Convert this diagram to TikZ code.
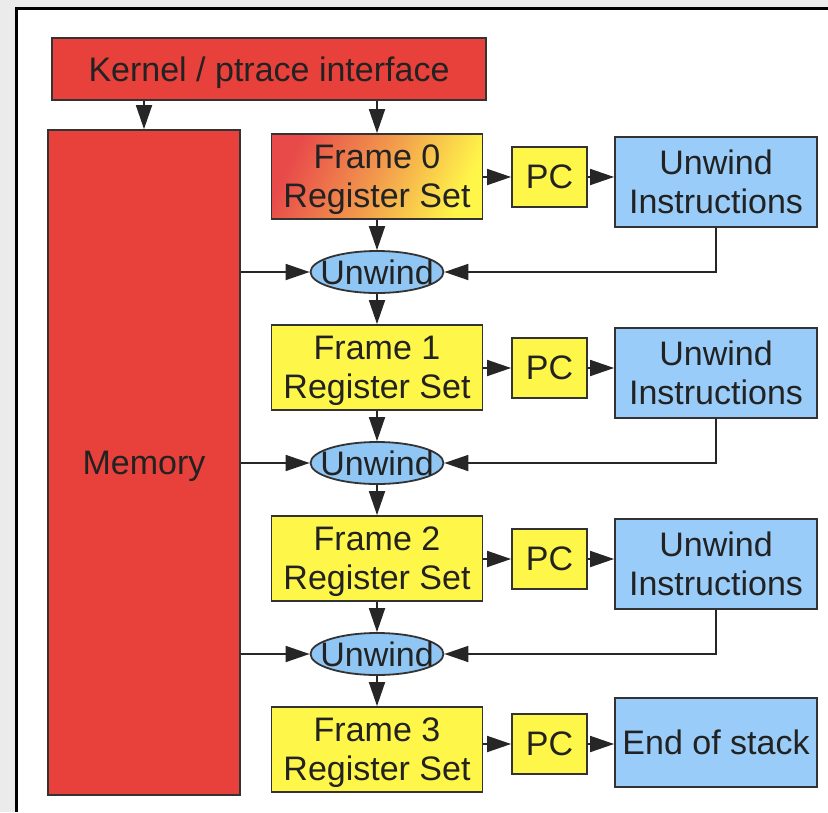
\documentclass[tikz,border=0pt]{standalone}
\usepackage{fontspec}
\setmainfont{Liberation Sans}
\usetikzlibrary{shapes.geometric,arrows.meta}
\definecolor{boxred}{HTML}{E8403A}
\definecolor{gradred}{HTML}{E84A4A}
\definecolor{gradmid}{HTML}{F29A4C}
\definecolor{boxyel}{HTML}{FFF64A}
\definecolor{boxblue}{HTML}{99CCF8}
\definecolor{ellblue}{HTML}{8FC6F3}
\definecolor{edge}{HTML}{333333}
\definecolor{bg}{HTML}{EBEBEB}
\definecolor{txt}{HTML}{222222}
\begin{document}
\begin{tikzpicture}[x=1pt,y=-1pt,
  base/.style={draw=edge,line width=1.8pt,text=txt,font=\fontsize{34}{39}\selectfont,align=center,inner sep=0pt,rectangle,text depth=0pt},
  redbox/.style={base,fill=boxred},
  yelbox/.style={base,fill=boxyel,minimum width=211pt,minimum height=85pt},
  pcbox/.style={base,fill=boxyel,minimum width=75pt,minimum height=60pt},
  bluebox/.style={base,fill=boxblue,minimum width=202pt},
  ell/.style={draw=edge,line width=1.8pt,ellipse,fill=ellblue,minimum width=133pt,minimum height=42pt,inner sep=0pt},
  elltext/.style={text=txt,font=\fontsize{34}{39}\selectfont,inner sep=0pt},
  arr/.style={draw=black!85,line width=1.8pt,-{Triangle[length=24pt,width=16pt]}},
  ]
\useasboundingbox (0,0) rectangle (828,812);
\fill[bg] (0,0) rectangle (828,812);
\fill[white] (16,8) rectangle (828,812);
\draw[line width=3pt] (16,812) -- (16,8) -- (828,8);

\node[redbox,minimum width=434pt,minimum height=62pt] (kernel) at (269,69) {Kernel / ptrace interface};
\node[redbox,minimum width=192pt,minimum height=665pt] (memory) at (144,462.5) {Memory};

\node[base,top color=gradred,bottom color=boxyel,middle color=gradmid,shading angle=65,minimum width=211pt,minimum height=85pt] (f0) at (377,176.5) {Frame 0\\Register Set};
\node[yelbox] (f1) at (377,367.5) {Frame 1\\Register Set};
\node[yelbox] (f2) at (377,558.5) {Frame 2\\Register Set};
\node[yelbox] (f3) at (377,749.5) {Frame 3\\Register Set};

\node[pcbox] (pc0) at (549.5,177) {PC};
\node[pcbox] (pc1) at (549.5,368) {PC};
\node[pcbox] (pc2) at (549.5,559) {PC};
\node[pcbox] (pc3) at (549.5,744) {PC};

\node[bluebox,minimum height=90pt] (ui0) at (716,182) {Unwind\\Instructions};
\node[bluebox,minimum height=90pt] (ui1) at (716,373) {Unwind\\Instructions};
\node[bluebox,minimum height=90pt] (ui2) at (716,564) {Unwind\\Instructions};
\node[bluebox,minimum height=89pt] (eos) at (716,742.5) {End of stack};

\node[ell,label={[elltext]center:Unwind}] (u0) at (377,272) {};
\node[ell,label={[elltext]center:Unwind}] (u1) at (377,463) {};
\node[ell,label={[elltext]center:Unwind}] (u2) at (377,654) {};

\draw[arr] (kernel.south -| memory.north) -- (memory.north);
\draw[arr] (kernel.south -| f0.north) -- (f0.north);

\foreach \i in {0,1,2,3} {
  \draw[arr] (f\i.east |- pc\i.west) -- (pc\i.west);
}
\draw[arr] (pc0.east) -- (ui0.west |- pc0.east);
\draw[arr] (pc1.east) -- (ui1.west |- pc1.east);
\draw[arr] (pc2.east) -- (ui2.west |- pc2.east);
\draw[arr] (pc3.east) -- (eos.west |- pc3.east);

\foreach \i/\j in {0/1,1/2,2/3} {
  \draw[arr] (f\i.south) -- (u\i.north);
  \draw[arr] (u\i.south) -- (f\j.north);
  \draw[arr] (memory.east |- u\i.west) -- (u\i.west);
  \draw[arr] (ui\i.south) |- (u\i.east);
}
\end{tikzpicture}
\end{document}
